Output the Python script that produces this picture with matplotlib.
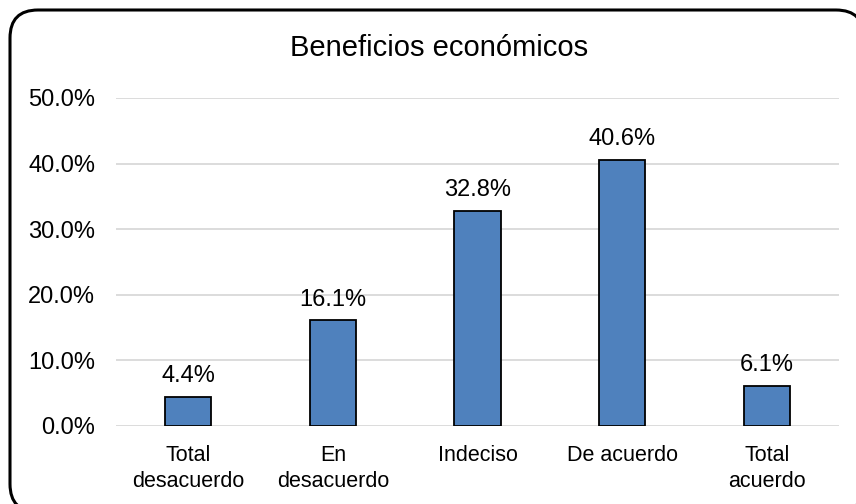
import matplotlib
matplotlib.use("Agg")
import matplotlib.pyplot as plt
from matplotlib.patches import FancyBboxPatch
from matplotlib.ticker import FuncFormatter

categories = ["Total\ndesacuerdo", "En\ndesacuerdo", "Indeciso", "De acuerdo", "Total\nacuerdo"]
values = [4.4, 16.1, 32.8, 40.6, 6.1]
title = "Beneficios económicos"

plt.rcParams['font.family'] = ['Liberation Sans', 'DejaVu Sans']

W, H = 856, 504
fig = plt.figure(figsize=(W / 100, H / 100), dpi=100)

# rounded chart border (pixel coordinates, clipped by the image edge)
bg = fig.add_axes([0, 0, 1, 1], zorder=0)
bg.set_xlim(0, W)
bg.set_ylim(H, 0)
bg.axis('off')
bg.add_patch(FancyBboxPatch((10, 10), 854, 502, boxstyle="round,pad=0,rounding_size=28",
                            facecolor='white', edgecolor='black', linewidth=2.2, clip_on=False))

ax = fig.add_axes([116 / W, 1 - 426 / H, 723 / W, 328 / H], zorder=1)
ax.patch.set_alpha(0)

x = range(len(categories))
bars = ax.bar(x, values, width=0.32, color='#4F81BD', edgecolor='black', linewidth=1.3, zorder=3)

for b, v in zip(bars, values):
    ax.annotate(f"{v:.1f}%", (b.get_x() + b.get_width() / 2, v), xytext=(0, 7),
                textcoords='offset points', ha='center', va='bottom', fontsize=17)

ax.set_xlim(-0.5, len(categories) - 0.5)
ax.set_ylim(0, 50)
ax.set_yticks([0, 10, 20, 30, 40, 50])
ax.yaxis.set_major_formatter(FuncFormatter(lambda v, p: f"{v:.1f}%"))
ax.set_xticks(list(x))
ax.set_xticklabels(categories, fontsize=15.5, linespacing=1.3)
ax.tick_params(axis='y', labelsize=17, length=0, pad=15)
ax.tick_params(axis='x', length=0, pad=14)
ax.grid(axis='y', color='#D9D9D9', linewidth=1.3, zorder=0)
for s in ax.spines.values():
    s.set_visible(False)

fig.text(439 / W, 1 - 48 / H, title, ha='center', va='center', fontsize=21)

fig.savefig("out.png", dpi=100)
